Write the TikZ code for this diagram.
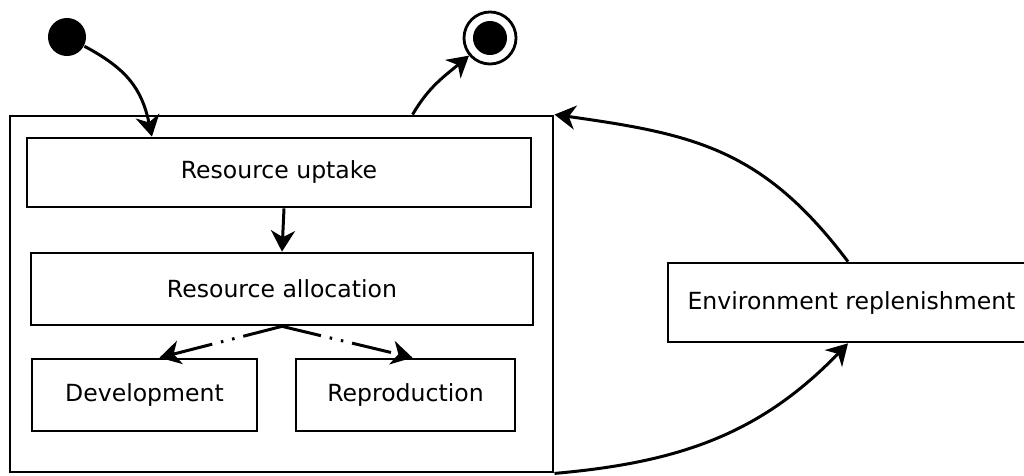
\documentclass[tikz,border=0pt]{standalone}
\usepackage{fontspec}
\setmainfont{DejaVu Sans}
\usetikzlibrary{arrows.meta}
\begin{document}
\begin{tikzpicture}[x=0.01cm,y=-0.01cm,
  box/.style={draw,line width=0.75pt,rectangle,inner sep=0pt,font=\fontsize{6.7}{8}\selectfont},
  conn/.style={line width=0.85pt,-{Stealth[length=0.21cm,width=0.24cm,inset=0.065cm]}},
  dashdot/.style={conn,dash pattern=on 0.4cm off 0.09cm on 0.025cm off 0.09cm on 0.025cm off 0.09cm}]
\useasboundingbox (0,0) rectangle (1024,476);
\node[box,minimum width=5.43cm,minimum height=3.56cm] (proc) at (281.5,294) {};
\node[box,minimum width=5.04cm,minimum height=0.69cm] (uptake) at (279,172.5) {Resource uptake};
\node[box,minimum width=5.02cm,minimum height=0.72cm] (alloc) at (282,289) {Resource allocation};
\node[box,minimum width=2.25cm,minimum height=0.72cm] (dev) at (144.5,395) {Development};
\node[box,minimum width=2.19cm,minimum height=0.72cm] (rep) at (405.5,395) {Reproduction};
\node[box,minimum width=3.67cm,minimum height=0.79cm] (env) at (851.5,302.5) {Environment replenishment};
\node[circle,fill,inner sep=0pt,minimum size=0.38cm] (start) at (67,37) {};
\node[circle,draw,line width=0.8pt,inner sep=0pt,minimum size=0.52cm,
  path picture={\fill (path picture bounding box.center) circle (0.17cm);}] (final) at (490,38) {};
\draw[conn] (start) to[out=-28,in=102,looseness=1.1] ([xshift=-1.27cm]uptake.north);
\draw[conn] ([xshift=1.31cm]proc.north) to[out=60,in=-140] (final);
\draw[conn] ([xshift=0.05cm]uptake.south) -- (alloc.north);
\draw[dashdot] (alloc.south) -- ([xshift=0.15cm]dev.north);
\draw[dashdot] (alloc.south) -- ([xshift=0.07cm]rep.north);
\draw[conn] ([xshift=-0.035cm]env.north) to[out=127,in=-8,looseness=1.1] (proc.north east);
\draw[conn] (proc.south east) to[out=5,in=-134] ([xshift=-0.035cm]env.south);
\end{tikzpicture}
\end{document}
